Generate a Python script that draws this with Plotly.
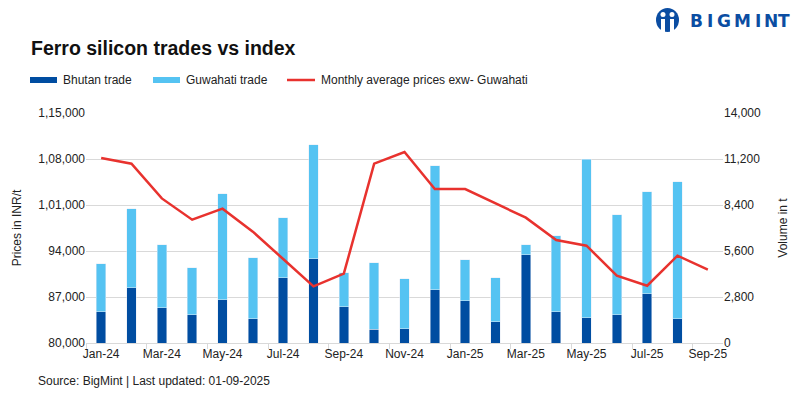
import plotly.graph_objects as go

months = ["Jan-24", "Feb-24", "Mar-24", "Apr-24", "May-24", "Jun-24", "Jul-24", "Aug-24",
          "Sep-24", "Oct-24", "Nov-24", "Dec-24", "Jan-25", "Feb-25", "Mar-25", "Apr-25",
          "May-25", "Jun-25", "Jul-25", "Aug-25", "Sep-25"]

bhutan_trade = [1910, 3370, 2150, 1730, 2640, 1480, 3980, 5130, 2210, 830,
                870, 3250, 2580, 1300, 5380, 1910, 1540, 1730, 3000, 1480]
total_trade = [4830, 8180, 5990, 4590, 9090, 5190, 7630, 12070, 4280, 4890,
               3920, 10790, 5070, 3980, 5990, 6530, 11180, 7810, 9210, 9820]
guwahati_trade = [t - b for t, b in zip(total_trade, bhutan_trade)]

avg_price = [108150, 107290, 102000, 98770, 100440, 96940, 92780, 88620, 90550, 107290,
             109070, 103430, 103430, 101300, 99070, 95670, 94810, 90250, 88720, 93290, 91160]

price_ticks = [80000, 87000, 94000, 101000, 108000, 115000]
price_ticktext = ["80,000", "87,000", "94,000", "1,01,000", "1,08,000", "1,15,000"]
vol_ticks = [0, 2800, 5600, 8400, 11200, 14000]
vol_ticktext = ["0", "2,800", "5,600", "8,400", "11,200", "14,000"]

x_idx = list(range(len(months)))
bar_x = x_idx[:len(bhutan_trade)]

DARK = "#004DA1"
LIGHT = "#55C3F2"
RED = "#E8322E"
LOGO = "#0B4DA2"
FONT = "Liberation Sans, Arial, sans-serif"

fig = go.Figure()
fig.add_trace(go.Bar(x=bar_x, y=bhutan_trade, name="Bhutan trade", marker_color=DARK,
                     width=0.31, yaxis="y"))
fig.add_trace(go.Bar(x=bar_x, y=guwahati_trade, name="Guwahati trade", marker_color=LIGHT,
                     width=0.31, yaxis="y"))
fig.add_trace(go.Scatter(x=x_idx, y=avg_price, name="Monthly average prices exw- Guwahati",
                         mode="lines", line=dict(color=RED, width=2.5), yaxis="y2"))

L, R, T, B = 86, 77, 113, 56
W, H = 800, 399
pw, ph = W - L - R, H - T - B

def px(xp):
    return (xp - L) / pw

def py(yp):
    return (H - B - yp) / ph

fig.update_layout(
    width=W, height=H,
    margin=dict(l=L, r=R, t=T, b=B),
    paper_bgcolor="white", plot_bgcolor="white",
    barmode="stack",
    showlegend=False,
    font=dict(family=FONT, size=12, color="#222222"),
    xaxis=dict(
        range=[-0.5, len(months) - 0.5],
        tickmode="array",
        tickvals=x_idx[::2],
        ticktext=months[::2],
        ticks="",
        showgrid=False,
        showline=True, linecolor="#d9d9d9", linewidth=1,
        zeroline=False,
        tickfont=dict(size=12, color="#222222"),
        minor=dict(tickmode="linear", tick0=-0.5, dtick=2, ticks="outside",
                   ticklen=5, tickcolor="#d9d9d9", tickwidth=1, showgrid=False),
    ),
    yaxis=dict(
        side="right",
        range=[0, 14000],
        tickmode="array", tickvals=vol_ticks, ticktext=vol_ticktext,
        showgrid=True, gridcolor="#d9d9d9", gridwidth=1,
        zeroline=False, ticks="",
        tickfont=dict(size=12, color="#222222"),
        title=dict(text="Volume in t", font=dict(size=12, color="#222222"), standoff=18),
    ),
    yaxis2=dict(
        side="left", overlaying="y",
        range=[80000, 115000],
        tickmode="array", tickvals=price_ticks, ticktext=price_ticktext,
        showgrid=False, zeroline=False, ticks="",
        tickfont=dict(size=12, color="#222222"),
        title=dict(text="Prices in INR/t", font=dict(size=12, color="#222222"), standoff=14),
    ),
)

annotations = [
    dict(text="<b>Ferro silicon trades vs index</b>", x=px(29), y=py(48), xref="paper", yref="paper",
         xanchor="left", yanchor="middle", showarrow=False,
         font=dict(size=19.5, color="#111111", family=FONT)),
    dict(text="Source: BigMint | Last updated: 01-09-2025", x=px(36), y=py(381), xref="paper", yref="paper",
         xanchor="left", yanchor="middle", showarrow=False,
         font=dict(size=12, color="#222222", family="Liberation Sans Narrow, Liberation Sans, Arial")),
]

# Logo wordmark, letters spaced as in the reference
logo_letters = [("B", 696), ("I", 709.5), ("G", 723.5), ("M", 742.5), ("I", 757.5), ("N", 771), ("T", 784)]
for ch, cx in logo_letters:
    annotations.append(dict(text="<b>" + ch + "</b>", x=px(cx), y=py(21.5), xref="paper", yref="paper",
                            xanchor="center", yanchor="middle", showarrow=False,
                            font=dict(size=17, color=LOGO, family="DejaVu Sans, Arial")))

legend_items = [
    (30, 57, 61, "Bhutan trade", DARK, "bar"),
    (153, 180, 184, "Guwahati trade", LIGHT, "bar"),
    (287, 315, 319, "Monthly average prices exw- Guwahati", RED, "line"),
]
shapes = []
for x0, x1, xt, label, col, kind in legend_items:
    if kind == "bar":
        shapes.append(dict(type="rect", xref="paper", yref="paper", x0=px(x0), x1=px(x1),
                           y0=py(83), y1=py(77), fillcolor=col, line=dict(width=0)))
    else:
        shapes.append(dict(type="line", xref="paper", yref="paper", x0=px(x0), x1=px(x1),
                           y0=py(80), y1=py(80), line=dict(color=col, width=2.5)))
    annotations.append(dict(text=label, x=px(xt), y=py(80), xref="paper", yref="paper",
                            xanchor="left", yanchor="middle", showarrow=False,
                            font=dict(size=12, color="#222222", family=FONT)))

# Logo icon
shapes.append(dict(type="circle", xref="paper", yref="paper", x0=px(656), x1=px(679),
                   y0=py(32), y1=py(8), fillcolor=LOGO, line=dict(width=0)))
for cx in (663, 672):
    shapes.append(dict(type="circle", xref="paper", yref="paper", x0=px(cx - 2.5), x1=px(cx + 2.5),
                       y0=py(17), y1=py(12), fillcolor="white", line=dict(width=0)))
    shapes.append(dict(type="rect", xref="paper", yref="paper", x0=px(cx - 2), x1=px(cx + 2),
                       y0=py(32), y1=py(19), fillcolor="white", line=dict(width=0)))

fig.update_layout(annotations=annotations, shapes=shapes)
fig.write_html("out.html", config={"displayModeBar": False},
               post_script="document.body.style.margin='0px';")
